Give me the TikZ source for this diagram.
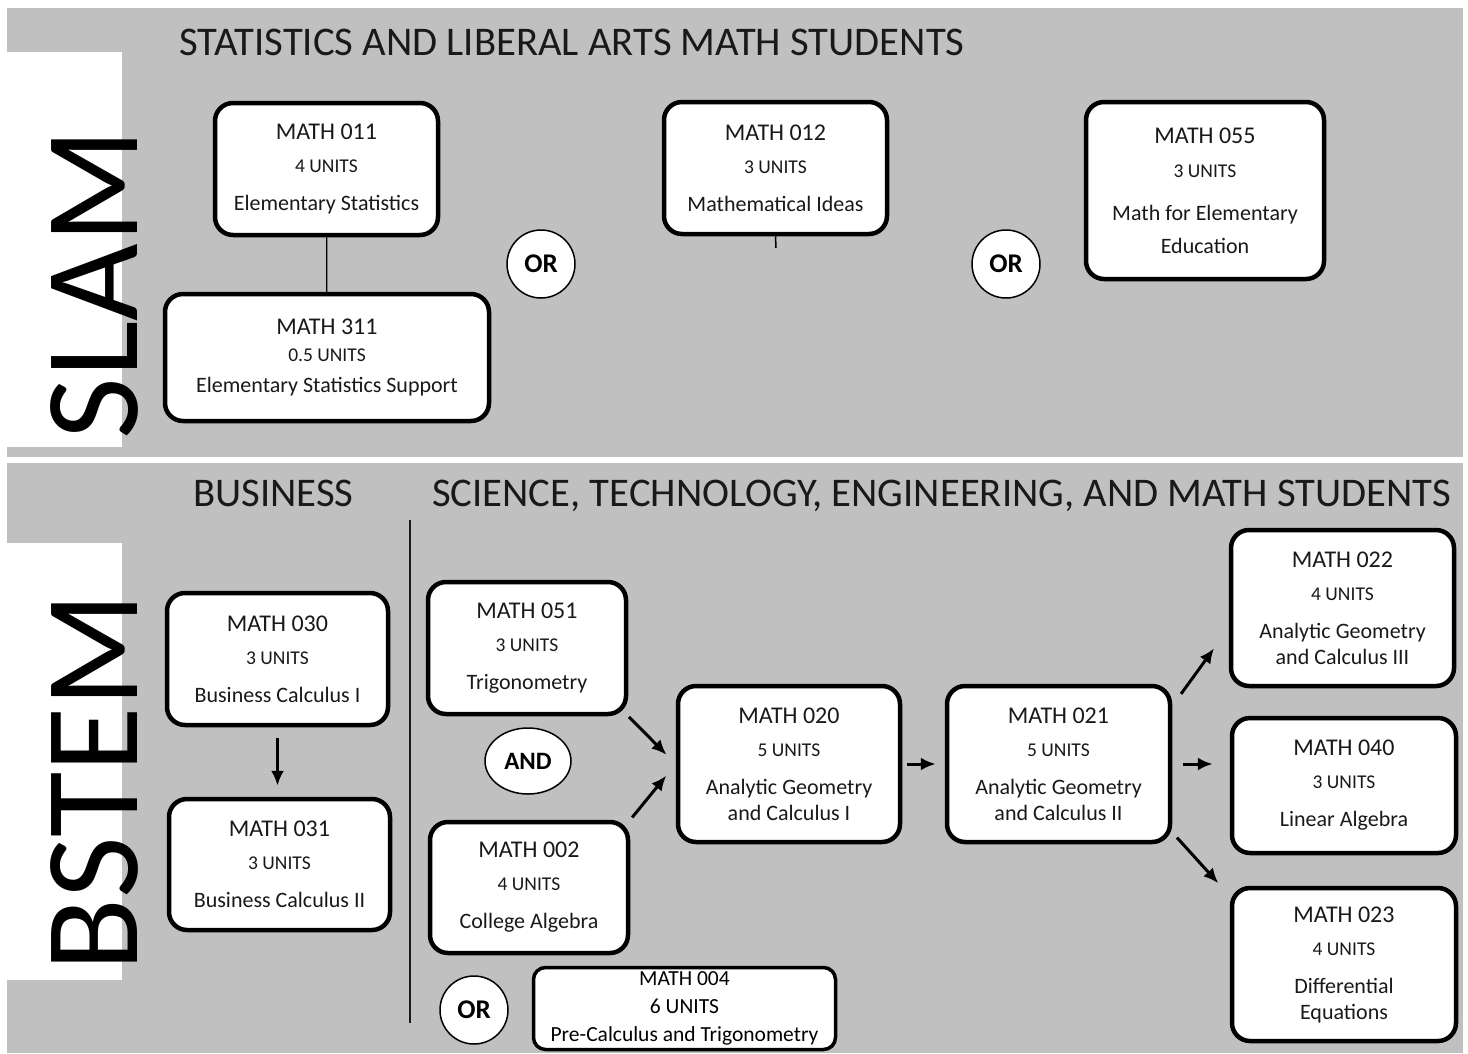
\documentclass[tikz,border=0pt]{standalone}
\usepackage{xcolor}
\usepackage{fontspec}
\setmainfont{Carlito}
\usepackage{tikz}
\usetikzlibrary{shapes,arrows,arrows.meta}

\definecolor{panelgrey}{RGB}{192,192,192}
\definecolor{inkgrey}{RGB}{25,25,25}

\newcommand{\ctitle}{\fontsize{24}{26}\selectfont}
\newcommand{\cunits}{\fontsize{19.5}{26}\selectfont}
\newcommand{\course}[3]{{\ctitle #1}\\[7pt]{\cunits #2}\\[12pt]#3}

\tikzstyle{course} = [rectangle, draw=black, fill=white, line width=4.5pt,
    rounded corners=18pt, align=center, text=inkgrey,
    font=\fontsize{22}{26}\selectfont, inner sep=0pt]
\tikzstyle{choice} = [circle, draw=black, fill=white, line width=1.5pt,
    minimum size=68pt, font=\bfseries\fontsize{27}{30}\selectfont, inner sep=0pt]
\tikzstyle{heading} = [anchor=base west, inner sep=0pt, text=inkgrey,
    font=\fontsize{40.7}{44}\selectfont]
\tikzstyle{track} = [rotate=90, anchor=base, inner sep=0pt,
    font=\fontsize{134}{140}\selectfont]
\tikzstyle{line} = [draw, -{Latex[length=15pt,width=13pt]}, line width=3pt]

\begin{document}
\begin{tikzpicture}[x=1pt, y=-1pt]
    \useasboundingbox (0,0) rectangle (1468,1053);
    \fill[white] (0,0) rectangle (1468,1053);

    % Panels
    \fill[panelgrey] (7,8) rectangle (1463,457);
    \fill[panelgrey] (7,463) rectangle (1463,1053);
    \fill[white] (7,52) rectangle (122,447);
    \fill[white] (7,543) rectangle (122,980);
    \draw[inkgrey, line width=1.5pt] (410,520) -- (410,1023);

    \node [track] (slam) at (137,284) {SLAM};
    \node [track] (bstem) at (137,782) {BSTEM};

    \node [heading] (h_slam) at (179,55) {STATISTICS AND LIBERAL ARTS MATH STUDENTS};
    \node [heading] (h_bus) at (193,506) {BUSINESS};
    \node [heading] (h_stem) at (432,506) {SCIENCE, TECHNOLOGY, ENGINEERING, AND MATH STUDENTS};

    % Place nodes (SLAM)
    \node [course, minimum width=223pt, minimum height=132pt] (m011) at (326.5,169)
        {\course{MATH 011}{4 UNITS}{Elementary Statistics}};
    \node [course, minimum width=324pt, minimum height=127pt] (m311) at (327,357.5)
        {{\ctitle MATH 311}\\[1pt]{\cunits 0.5 UNITS}\\[5pt]Elementary Statistics Support};
    \node [course, minimum width=223pt, minimum height=132pt] (m012) at (775.5,168)
        {\course{MATH 012}{3 UNITS}{Mathematical Ideas}};
    \node [course, minimum width=238pt, minimum height=177pt] (m055) at (1205,190.5)
        {{\ctitle MATH 055}\\[8pt]{\cunits 3 UNITS}\\[17pt]Math for Elementary\\[7pt]Education};
    \node [choice] (or_a) at (541,264) {OR};
    \node [choice] (or_b) at (1006,264) {OR};
    \coordinate (stub) at (776,248);

    \draw [line width=1.2pt] (m011) -- (m311);
    \draw [line width=1.5pt] (m012.south) -- (stub);

    % Place nodes (BSTEM)
    \node [course, minimum width=221pt, minimum height=132pt] (m030) at (277.5,659)
        {\course{MATH 030}{3 UNITS}{Business Calculus I}};
    \node [course, minimum width=221pt, minimum height=131pt, below of=m030, node distance=205.5pt, xshift=2pt] (m031)
        {\course{MATH 031}{3 UNITS}{Business Calculus II}};
    \node [course, minimum width=198pt, minimum height=132pt] (m051) at (527,648)
        {\course{MATH 051}{3 UNITS}{Trigonometry}};
    \node [course, minimum width=198pt, minimum height=131pt] (m002) at (529,887.5)
        {\course{MATH 002}{4 UNITS}{College Algebra}};
    \node [ellipse, draw=black, fill=white, line width=1.5pt, minimum width=86pt,
        minimum height=66pt, inner sep=0pt, font=\bfseries\fontsize{25}{28}\selectfont] (and) at (528,761) {AND};
    \node [choice] (or_c) at (474,1010) {OR};
    \node [course, line width=3.5pt, rounded corners=12pt, minimum width=302pt, minimum height=82pt,
        text=black, font=\fontsize{21.5}{28}\selectfont] (m004) at (684.5,1008.5)
        {MATH 004\\6 UNITS\\Pre-Calculus and Trigonometry};
    \node [course, minimum width=222pt, minimum height=156pt] (m020) at (789,764)
        {\course{MATH 020}{5 UNITS}{Analytic Geometry\\and Calculus I}};
    \node [course, minimum width=223pt, minimum height=156pt, right of=m020, node distance=269.5pt] (m021)
        {\course{MATH 021}{5 UNITS}{Analytic Geometry\\and Calculus II}};
    \node [course, minimum width=223pt, minimum height=156pt] (m022) at (1342.5,608)
        {\course{MATH 022}{4 UNITS}{Analytic Geometry\\and Calculus III}};
    \node [course, minimum width=224pt, minimum height=135pt] (m040) at (1344,785.5)
        {\course{MATH 040}{3 UNITS}{Linear Algebra}};
    \node [course, minimum width=224pt, minimum height=153pt] (m023) at (1344,964.5)
        {\course{MATH 023}{4 UNITS}{Differential\\Equations}};

    \path [line, shorten <=11pt, shorten >=11pt] (m030.south) -- (m030.south |- m031.north);
    \path [line, shorten <=1pt, shorten >=13pt] (m051.south east) -- (m020.west);
    \path [line, shorten <=3pt, shorten >=15pt] (m002.north east) -- (m020.west);
    \path [line, shorten <=5pt, shorten >=9pt] (m020.east) -- (m021.west);
    \path [line, shorten <=15pt, shorten >=25pt] (m021.27) -- (m022.190);
    \path [line, shorten <=11pt, shorten >=17pt] (m021.east) -- (m021.east -| m040.west);
    \path [line, shorten <=7pt, shorten >=17pt] (m021.-31) -- (m023.149);

\end{tikzpicture}
\end{document}
